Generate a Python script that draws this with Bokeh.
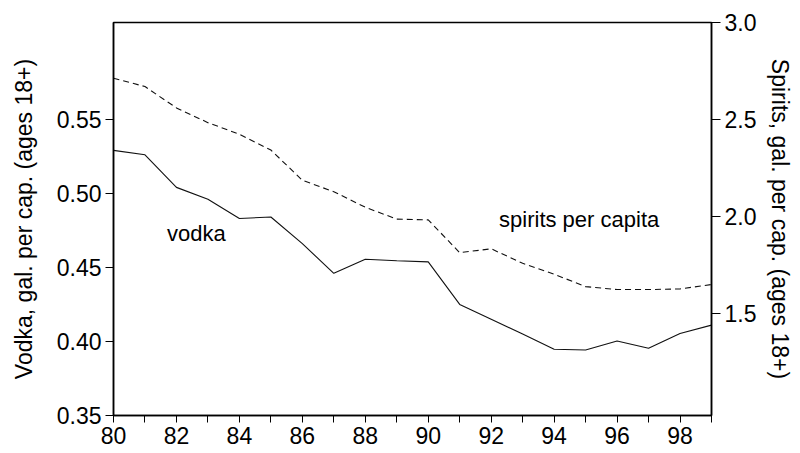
from bokeh.plotting import figure
from bokeh.models import Range1d, LinearAxis, FixedTicker, Label, NumeralTickFormatter
from bokeh.embed import file_html
from bokeh.resources import INLINE

years = list(range(80, 100))
vodka = [0.529, 0.526, 0.504, 0.496, 0.483, 0.484, 0.466, 0.446, 0.4555, 0.4545,
         0.4537, 0.425, 0.415, 0.405, 0.3947, 0.3942, 0.4003, 0.3954, 0.4054, 0.411]
spirits = [2.713, 2.670, 2.560, 2.484, 2.424, 2.343, 2.187, 2.128, 2.048, 1.987,
           1.983, 1.814, 1.834, 1.759, 1.703, 1.639, 1.624, 1.624, 1.627, 1.650]

left_ticks = [0.35, 0.40, 0.45, 0.50, 0.55]
right_ticks = [1.5, 2.0, 2.5, 3.0]
x_major = list(range(80, 100, 2))
x_minor = list(range(81, 100, 2))

FONT = "Liberation Sans"
FS = "23px"
FS_LABEL = "22px"

p = figure(width=792, height=452, output_backend="svg", toolbar_location=None,
           x_range=Range1d(80, 99), y_range=Range1d(0.35, 0.6153),
           frame_width=598, frame_height=393,
           min_border_left=113, min_border_right=81, min_border_top=22, min_border_bottom=37,
           background_fill_color="white", border_fill_color="white")
p.extra_y_ranges = {"spirits": Range1d(0.975, 3.0)}
p.grid.visible = False
p.outline_line_color = "black"
p.outline_line_width = 1.5

# x axis
xa = p.xaxis[0]
xa.ticker = FixedTicker(ticks=x_major, minor_ticks=x_minor)
xa.major_tick_in = 0
xa.major_tick_out = 7
xa.minor_tick_in = 0
xa.minor_tick_out = 7
xa.major_label_standoff = 4
xa.axis_line_width = 1.5

# left axis
ya = p.yaxis[0]
ya.ticker = FixedTicker(ticks=left_ticks)
ya.formatter = NumeralTickFormatter(format="0.00")
ya.axis_label = "Vodka, gal. per cap. (ages 18+)"
ya.axis_label_standoff = 17
ya.major_tick_in = 0
ya.major_tick_out = 8
ya.minor_tick_out = 0
ya.minor_tick_in = 0
ya.major_label_standoff = 4
ya.axis_line_width = 1.5

# right axis
ra = LinearAxis(y_range_name="spirits", ticker=FixedTicker(ticks=right_ticks),
                formatter=NumeralTickFormatter(format="0.0"),
                axis_label="Spirits, gal. per cap. (ages 18+)")
ra.axis_label_standoff = 8
ra.major_tick_in = 0
ra.major_tick_out = 9
ra.minor_tick_out = 0
ra.minor_tick_in = 0
ra.major_label_standoff = 4
ra.axis_line_width = 1.5
p.add_layout(ra, "right")

for ax in [xa, ya, ra]:
    ax.major_label_text_font = FONT
    ax.major_label_text_font_size = FS
    ax.major_label_text_color = "black"
    ax.axis_label_text_font = FONT
    ax.axis_label_text_font_size = FS
    ax.axis_label_text_font_style = "normal"
    ax.axis_label_text_color = "black"
    ax.axis_line_color = "black"
    ax.major_tick_line_color = "black"
    ax.minor_tick_line_color = "black"

p.line(years, vodka, line_color="#111111", line_width=1.1)
p.line(years, spirits, y_range_name="spirits", line_color="#111111", line_width=1.1,
       line_dash="6 4")

p.add_layout(Label(x=81.7, y=0.4726, text="vodka", text_font=FONT, text_font_size=FS_LABEL,
                   text_baseline="middle", text_color="black"))
p.add_layout(Label(x=92.25, y=0.482, text="spirits per capita", text_font=FONT,
                   text_font_size=FS_LABEL, text_baseline="middle", text_color="black"))

open("out.html", "w").write(file_html(p, INLINE))
